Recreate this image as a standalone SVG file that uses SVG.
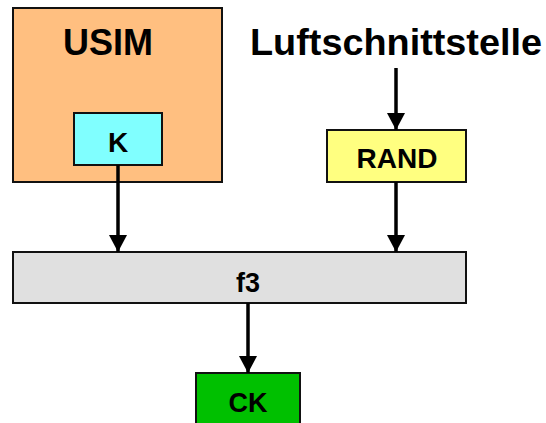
<svg xmlns="http://www.w3.org/2000/svg" width="546" height="423" viewBox="0 0 546 423">
  <defs>
    <marker id="arrow" markerWidth="17" markerHeight="18" refX="17" refY="9" orient="auto" markerUnits="userSpaceOnUse" viewBox="0 0 17 18">
      <path d="M0,0 L17,9 L0,18 Z" fill="#000"/>
    </marker>
    <style>
      .box { stroke: #111; stroke-width: 2; }
      .lbl { font-family: "Liberation Sans", Arial, sans-serif; font-weight: bold; fill: #000; text-anchor: middle; }
      .conn { stroke: #000; stroke-width: 3.5; fill: none; }
    </style>
  </defs>
  <rect width="546" height="423" fill="#fff"/>

  <g id="usim">
    <rect class="box" x="13" y="8" width="209" height="174" fill="#FFBF80"/>
    <text class="lbl" x="108" y="55" font-size="36">USIM</text>
  </g>

  <g id="k">
    <rect class="box" x="74" y="113" width="88" height="52" fill="#80FFFF"/>
    <text class="lbl" x="118" y="152" font-size="28">K</text>
  </g>

  <g id="luftschnittstelle">
    <text class="lbl" x="396" y="55" font-size="36" textLength="292" lengthAdjust="spacingAndGlyphs">Luftschnittstelle</text>
  </g>

  <g id="rand">
    <rect class="box" x="327" y="130" width="139" height="52" fill="#FFFF80"/>
    <text class="lbl" x="397" y="168" font-size="28">RAND</text>
  </g>

  <g id="f3">
    <rect class="box" x="13" y="252" width="453" height="51" fill="#E0E0E0"/>
    <text class="lbl" x="248" y="292" font-size="27">f3</text>
  </g>

  <g id="ck">
    <rect class="box" x="196" y="373" width="104" height="60" fill="#00C000"/>
    <text class="lbl" x="248" y="412" font-size="27">CK</text>
  </g>

  <g id="connectors">
    <line class="conn" x1="118" y1="165" x2="118" y2="252" marker-end="url(#arrow)"/>
    <line class="conn" x1="396" y1="68" x2="396" y2="130" marker-end="url(#arrow)"/>
    <line class="conn" x1="396" y1="182" x2="396" y2="252" marker-end="url(#arrow)"/>
    <line class="conn" x1="248" y1="303" x2="248" y2="373" marker-end="url(#arrow)"/>
  </g>
</svg>
